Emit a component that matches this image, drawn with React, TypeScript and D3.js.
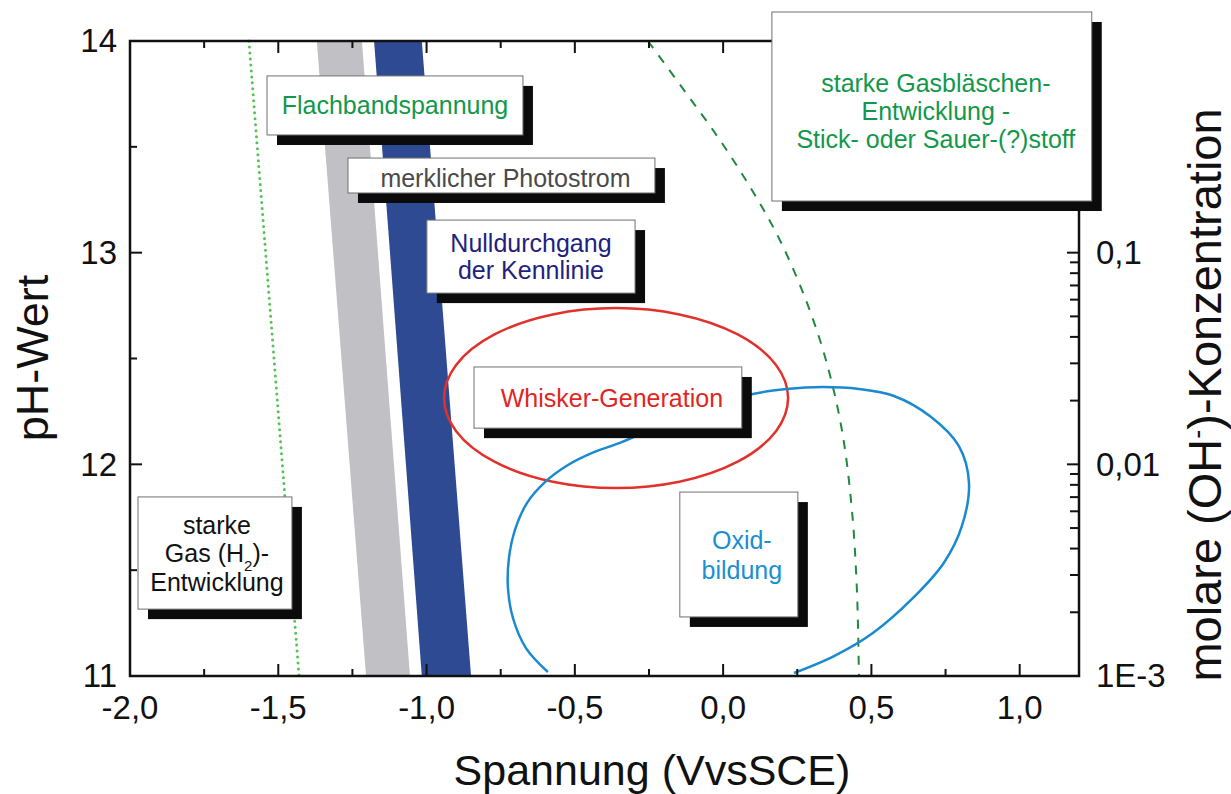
import React from "react";
import * as d3 from "d3";

// axis ticks
const voltMajor = [-2.0, -1.5, -1.0, -0.5, 0.0, 0.5, 1.0];
const voltMinor = [-1.75, -1.25, -0.75, -0.25, 0.25, 0.75];
const pHMajor = [11, 12, 13, 14];
const pHMinor = [11.5, 12.5, 13.5];
const concLabelValues = [0.001, 0.01, 0.1];
const concLabels = ["1E-3", "0,01", "0,1"];

// regions, [Spannung V, pH]
const flachbandBand = [[-1.370, 14], [-1.218, 14], [-1.056, 11], [-1.204, 11]];
const nulldurchgangBand = [[-1.177, 14], [-1.016, 14], [-0.850, 11], [-1.016, 11]];
const h2Limit = [[-1.599, 14], [-1.430, 11]];
const gasLimit = [
  [-0.2535, 14.0], [-0.132, 13.768], [-0.0108, 13.532], [0.0971, 13.296], [0.1915, 13.059],
  [0.2792, 12.776], [0.3466, 12.493], [0.4005, 12.162], [0.4343, 11.784], [0.4511, 11.406],
  [0.4579, 11.0],
];
const oxidLoop = [
  [-0.591, 11.019], [-0.6649, 11.132], [-0.7087, 11.274], [-0.7256, 11.416], [-0.7222, 11.557],
  [-0.702, 11.69], [-0.6615, 11.817], [-0.6008, 11.916], [-0.5233, 11.997], [-0.4356, 12.058],
  [-0.3479, 12.101], [-0.2468, 12.162], [-0.0883, 12.247], [0.1005, 12.332], [0.215, 12.356],
  [0.336, 12.365], [0.458, 12.356], [0.576, 12.323], [0.697, 12.228], [0.795, 12.086],
  [0.829, 11.912], [0.805, 11.708], [0.744, 11.534], [0.637, 11.364], [0.505, 11.203],
  [0.374, 11.094], [0.239, 11.014],
];
const whiskerCenter = [-0.361, 12.313];
const whiskerRadius = [0.58, 0.425];

const FONT = "'Liberation Sans', Arial, Helvetica, sans-serif";

// label boxes: extent in data units
const boxes = [
  { lines: ["Flachbandspannung"], x0: -1.538, x1: -0.675, top: 13.835, bottom: 13.556, color: "#12984a", lh: 0, dx: 0, dy: 0 },
  { lines: ["merklicher Photostrom"], x0: -1.265, x1: -0.23, top: 13.447, bottom: 13.282, color: "#4a4a4a", lh: 0, dx: 4, dy: 2 },
  { lines: ["Nulldurchgang", "der Kennlinie"], x0: -0.999, x1: -0.297, top: 13.154, bottom: 12.809, color: "#231f7e", lh: 26.5, dx: 0, dy: 0 },
  { lines: ["Whisker-Generation"], x0: -0.84, x1: 0.063, top: 12.46, bottom: 12.171, color: "#e1261f", lh: 0, dx: 4, dy: 0 },
  { lines: ["Oxid-", "bildung"], x0: -0.146, x1: 0.252, top: 11.869, bottom: 11.279, color: "#1b8fd2", lh: 30, dx: 3, dy: 0 },
  { lines: ["starke", "H2", "Entwicklung"], x0: -1.973, x1: -1.454, top: 11.846, bottom: 11.316, color: "#111111", lh: 28.5, dx: 2, dy: 0 },
  { lines: ["starke Gasbläschen-", "Entwicklung -", "Stick- oder Sauer-(?)stoff"], x0: 0.1645, x1: 1.243, top: 14.137, bottom: 13.244, color: "#12984a", lh: 28, dx: 4, dy: 4 },
];

const fmtVolt = (v: number) => v.toFixed(1).replace(".", ",");

export default function App() {
  const x = d3.scaleLinear().domain([-2.0, 1.2]).range([130, 1079]);
  const y = d3.scaleLinear().domain([11, 14]).range([676, 41]);
  const yC = d3.scaleLog().domain([0.001, 1]).range([676, 41]);

  const [x0, x1] = x.range();
  const [y0, y1] = y.range();

  const poly = d3.line<number[]>().x(d => x(d[0])).y(d => y(d[1]));
  const smooth = d3.line<number[]>().x(d => x(d[0])).y(d => y(d[1])).curve(d3.curveCatmullRom.alpha(0.5));

  const concTicks = yC.ticks();
  const isDecade = (v: number) => Math.abs(Math.log10(v) - Math.round(Math.log10(v))) < 1e-6;

  return (
    <svg width={1231} height={794} style={{ display: "block", background: "#fff" }} fontFamily={FONT}>
      <style>{`body{margin:0}`}</style>

      <path d={poly(flachbandBand) + "Z"} fill="#c0c0c5" />
      <path d={poly(nulldurchgangBand) + "Z"} fill="#2e4a93" />

      <path d={poly(h2Limit)!} fill="none" stroke="#55c255" strokeWidth={3} strokeDasharray="0,6" strokeLinecap="round" />
      <path d={smooth(gasLimit)!} fill="none" stroke="#1f8a3c" strokeWidth={2} strokeDasharray="9,9" />

      <ellipse
        cx={x(whiskerCenter[0])}
        cy={y(whiskerCenter[1])}
        rx={x(whiskerCenter[0] + whiskerRadius[0]) - x(whiskerCenter[0])}
        ry={y(whiskerCenter[1] - whiskerRadius[1]) - y(whiskerCenter[1])}
        fill="none"
        stroke="#e2312b"
        strokeWidth={2.5}
      />
      <path d={smooth(oxidLoop)!} fill="none" stroke="#1a8ad0" strokeWidth={2.5} />

      {/* frame and ticks */}
      <g stroke="#111" strokeWidth={2}>
        {voltMajor.map(v => (
          <g key={"vM" + v}>
            <line x1={x(v)} x2={x(v)} y1={y0} y2={y0 - 12} />
            <line x1={x(v)} x2={x(v)} y1={y1} y2={y1 + 12} />
          </g>
        ))}
        {voltMinor.map(v => (
          <g key={"vm" + v}>
            <line x1={x(v)} x2={x(v)} y1={y0} y2={y0 - 7} />
            <line x1={x(v)} x2={x(v)} y1={y1} y2={y1 + 7} />
          </g>
        ))}
        {pHMajor.map(p => <line key={"pM" + p} x1={x0} x2={x0 + 12} y1={y(p)} y2={y(p)} />)}
        {pHMinor.map(p => <line key={"pm" + p} x1={x0} x2={x0 + 7} y1={y(p)} y2={y(p)} />)}
        {concTicks.map(c => (
          <line key={"c" + c} x1={x1} x2={x1 - (isDecade(c) ? 12 : 9)} y1={yC(c)} y2={yC(c)} />
        ))}
        <rect x={x0} y={y1} width={x1 - x0} height={y0 - y1} fill="none" strokeWidth={2.5} />
      </g>

      {/* tick labels */}
      <g fontSize={33} fill="#111">
        {voltMajor.map(v => (
          <text key={"vl" + v} x={x(v)} y={719} textAnchor="middle">{fmtVolt(v)}</text>
        ))}
        {pHMajor.map(p => (
          <text key={"pl" + p} x={117} y={y(p)} dy="0.34em" textAnchor="end">{p}</text>
        ))}
        {concLabelValues.map((c, i) => (
          <text key={"cl" + c} x={1096} y={yC(c)} dy="0.34em">{concLabels[i]}</text>
        ))}
      </g>

      {/* axis titles */}
      <g fontSize={45} fill="#111">
        <text x={652} y={785} fontSize={43} textAnchor="middle">Spannung (VvsSCE)</text>
        <text transform="translate(48,358) rotate(-90)" textAnchor="middle">pH-Wert</text>
        <text transform="translate(1221,395) rotate(-90)" fontSize={47} textAnchor="middle">
          molare (OH<tspan fontSize={27} baselineShift="super">-</tspan>)-Konzentration
        </text>
      </g>

      {/* label boxes */}
      {boxes.map((b, i) => {
        const bx = x(b.x0);
        const by = y(b.top);
        const bw = x(b.x1) - bx;
        const bh = y(b.bottom) - by;
        const cx = bx + bw / 2 + b.dx;
        const cy = by + bh / 2 + b.dy;
        const first = cy - ((b.lines.length - 1) / 2) * b.lh + 9;
        return (
          <g key={"box" + i}>
            <rect x={bx + 10} y={by + 10} width={bw} height={bh} fill="#0b0b0b" />
            <rect x={bx} y={by} width={bw} height={bh} fill="#fff" stroke="#707070" strokeWidth={1} />
            <text fontSize={25} fill={b.color} textAnchor="middle">
              {b.lines.map((l, j) =>
                l === "H2" ? (
                  <tspan key={j} x={cx} y={first + j * b.lh}>
                    Gas (H<tspan fontSize={15} baselineShift="sub">2</tspan>)-
                  </tspan>
                ) : (
                  <tspan key={j} x={cx} y={first + j * b.lh}>{l}</tspan>
                )
              )}
            </text>
          </g>
        );
      })}
    </svg>
  );
}
